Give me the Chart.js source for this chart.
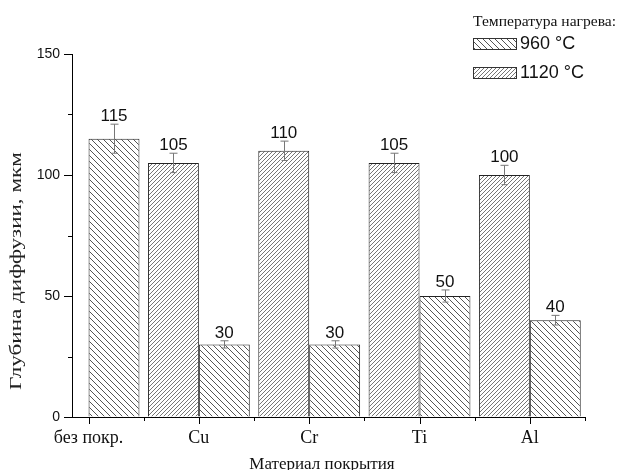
<!DOCTYPE html>
<html>
<head>
<meta charset="utf-8">
<script src="https://cdn.jsdelivr.net/npm/chart.js@4.4.1/dist/chart.umd.min.js"></script>
<style>
  html, body { margin: 0; padding: 0; background: #fff; }
  #wrap { width: 619px; height: 470px; position: relative; }
</style>
</head>
<body>
<div id="wrap"><canvas id="c"></canvas></div>
<script>
// Coating materials along the x axis
const categories = ['без покр.', 'Cu', 'Cr', 'Ti', 'Al'];

// Diffusion depth, µm, and error half-widths
const depth960 = [115, 30, 30, 50, 40];
const err960 = [6, 1.5, 1.5, 2.5, 2];
const depth1120 = [null, 105, 110, 105, 100];
const err1120 = [null, 4, 4, 4, 4];

// Axis ticks
const yTicks = [0, 50, 100, 150];
const yMinorTicks = [25, 75, 125];
const xMinorTicks = [1.5, 2.5, 3.5, 4.5, 5.5];

const label960 = '960 °C';
const label1120 = '1120 °C';
const legendTitle = 'Температура нагрева:';
const xTitle = 'Материал покрытия';
const yTitle = 'Глубина диффузии, мкм';

const SERIF = '"Liberation Serif", "Times New Roman", serif';
const SANS = '"Liberation Sans", Arial, sans-serif';

// Diagonal hatch tiles
function hatch(period, dir, color, width) {
  const t = document.createElement('canvas');
  t.width = period; t.height = period;
  const g = t.getContext('2d');
  g.fillStyle = '#fff';
  g.fillRect(0, 0, period, period);
  g.strokeStyle = color;
  g.lineWidth = width;
  g.beginPath();
  for (const k of [-period, 0, period]) {
    if (dir === 'back') { g.moveTo(k, 0); g.lineTo(k + period, period); }
    else { g.moveTo(k, period); g.lineTo(k + period, 0); }
  }
  g.stroke();
  return g.createPattern(t, 'repeat');
}
const patternSparse = hatch(6, 'back', '#555', 1);
const patternDense = hatch(4, 'fwd', '#666', 0.9);

const toPoints = arr => arr.map((v, i) => ({ x: i + 1, y: v }));

const errorsByDataset = [err1120, err960];
const valuesByDataset = [depth1120, depth960];

const overlay = {
  id: 'overlay',
  afterDatasetsDraw(chart) {
    const ctx = chart.ctx;
    const y = chart.scales.y;
    ctx.save();
    chart.data.datasets.forEach((ds, di) => {
      const meta = chart.getDatasetMeta(di);
      meta.data.forEach((bar, i) => {
        const v = valuesByDataset[di][i];
        const e = errorsByDataset[di][i];
        if (v == null) return;
        const x = Math.round(bar.x) + 0.5;
        const yt = y.getPixelForValue(v + e);
        const yb = y.getPixelForValue(v - e);
        ctx.strokeStyle = '#777';
        ctx.lineWidth = 1;
        ctx.beginPath();
        ctx.moveTo(x, yt); ctx.lineTo(x, yb);
        ctx.moveTo(x - 4, yt); ctx.lineTo(x + 4, yt);
        ctx.moveTo(x - 3, yb); ctx.lineTo(x + 3, yb);
        ctx.stroke();
        ctx.fillStyle = '#111';
        ctx.font = '17px ' + SANS;
        ctx.textAlign = 'center';
        ctx.textBaseline = 'alphabetic';
        ctx.fillText(String(v), bar.x, yt - 3);
      });
    });
    ctx.restore();
  },
  afterDraw(chart) {
    const ctx = chart.ctx;
    const xs = chart.scales.x, ys = chart.scales.y;
    const area = chart.chartArea;
    ctx.save();
    // tick marks, major and minor
    ctx.strokeStyle = '#000';
    ctx.lineWidth = 1;
    ctx.beginPath();
    categories.forEach((c, i) => {
      const px = Math.round(xs.getPixelForValue(i + 1)) + 0.5;
      ctx.moveTo(px, area.bottom); ctx.lineTo(px, area.bottom + 7);
    });
    xMinorTicks.forEach(v => {
      const px = Math.round(xs.getPixelForValue(v)) + 0.5;
      ctx.moveTo(px, area.bottom); ctx.lineTo(px, area.bottom + 4);
    });
    yTicks.forEach(v => {
      const py = Math.round(ys.getPixelForValue(v)) + 0.5;
      ctx.moveTo(area.left, py); ctx.lineTo(area.left - 8, py);
    });
    yMinorTicks.forEach(v => {
      const py = Math.round(ys.getPixelForValue(v)) + 0.5;
      ctx.moveTo(area.left, py); ctx.lineTo(area.left - 4, py);
    });
    ctx.stroke();

    // axis titles
    ctx.fillStyle = '#111';
    ctx.font = '17px ' + SERIF;
    ctx.textAlign = 'center';
    ctx.textBaseline = 'alphabetic';
    ctx.fillText(xTitle, 322, 469);

    ctx.save();
    ctx.translate(21, 271);
    ctx.rotate(-Math.PI / 2);
    ctx.scale(1.36, 1);
    ctx.font = '17px ' + SERIF;
    ctx.fillStyle = '#222';
    ctx.fillText(yTitle, 0, 0);
    ctx.restore();

    // legend
    ctx.textAlign = 'left';
    ctx.font = '15.6px ' + SERIF;
    ctx.fillText(legendTitle, 473, 26);
    const items = [
      { label: label960, fill: patternSparse, y: 38 },
      { label: label1120, fill: patternDense, y: 67 }
    ];
    items.forEach(it => {
      ctx.fillStyle = it.fill;
      ctx.fillRect(473, it.y, 44, 12);
      ctx.strokeStyle = '#333';
      ctx.strokeRect(473.5, it.y + 0.5, 43, 11);
      ctx.fillStyle = '#111';
      ctx.font = '18px ' + SANS;
      ctx.textBaseline = 'middle';
      ctx.fillText(it.label, 520, it.y + 6.5);
    });
    ctx.restore();
  }
};

new Chart(document.getElementById('c'), {
  type: 'bar',
  data: {
    datasets: [
      {
        label: label1120,
        data: toPoints(depth1120),
        backgroundColor: patternDense,
        borderColor: '#222',
        borderWidth: 1,
        borderSkipped: 'bottom'
      },
      {
        label: label960,
        data: toPoints(depth960),
        backgroundColor: patternSparse,
        borderColor: '#222',
        borderWidth: 1,
        borderSkipped: 'bottom'
      }
    ]
  },
  options: {
    responsive: true,
    maintainAspectRatio: false,
    devicePixelRatio: 1,
    animation: false,
    layout: { padding: { top: 54, right: 34, left: 0, bottom: 0 } },
    datasets: { bar: { categoryPercentage: 0.923, barPercentage: 1.0 } },
    plugins: { legend: { display: false }, tooltip: { enabled: false } },
    scales: {
      x: {
        type: 'linear',
        min: 0.85,
        max: 5.5,
        offset: false,
        afterBuildTicks: s => { s.ticks = categories.map((c, i) => ({ value: i + 1 })); },
        afterFit: s => { s.height = 53; },
        ticks: {
          autoSkip: false,
          maxRotation: 0,
          padding: 3,
          color: '#111',
          font: { family: SERIF, size: 18 },
          callback: v => categories[v - 1] ?? ''
        },
        grid: { offset: false, drawOnChartArea: false, drawTicks: true, tickLength: 7, color: 'rgba(0,0,0,0)', tickColor: 'rgba(0,0,0,0)' },
        border: { display: true, color: '#000', width: 1 }
      },
      y: {
        min: 0,
        max: 150,
        afterBuildTicks: s => { s.ticks = yTicks.map(v => ({ value: v })); },
        afterFit: s => { s.width = 72; },
        ticks: {
          padding: 4,
          color: '#111',
          font: { family: SANS, size: 14 }
        },
        grid: { offset: false, drawOnChartArea: false, drawTicks: true, tickLength: 8, color: 'rgba(0,0,0,0)', tickColor: 'rgba(0,0,0,0)' },
        border: { display: true, color: '#000', width: 1 }
      }
    }
  },
  plugins: [overlay]
});
</script>
</body>
</html>
